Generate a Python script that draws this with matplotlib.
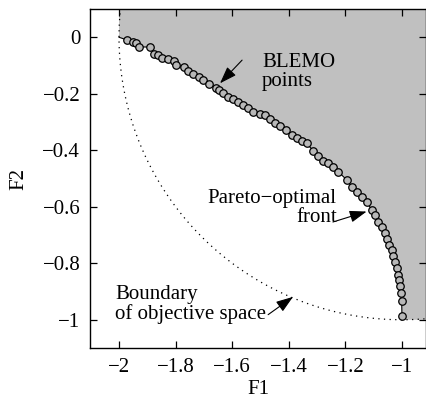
import numpy as np
import matplotlib
matplotlib.use("Agg")
import matplotlib.pyplot as plt

plt.rcParams["font.family"] = ["Liberation Serif", "DejaVu Serif"]

# BLEMO solutions (F1, F2)
blemo_f1 = [
    -1.971, -1.952, -1.940, -1.928, -1.890, -1.875, -1.861, -1.849, -1.826,
    -1.805, -1.799, -1.770, -1.755, -1.740, -1.716, -1.702, -1.681, -1.657,
    -1.647, -1.631, -1.614, -1.596, -1.578, -1.561, -1.543, -1.525, -1.502,
    -1.484, -1.466, -1.449, -1.431, -1.410, -1.390, -1.372, -1.354, -1.337,
    -1.313, -1.296, -1.278, -1.260, -1.243, -1.225, -1.195, -1.178, -1.160,
    -1.142, -1.125, -1.107, -1.095, -1.084, -1.072, -1.060, -1.052, -1.045,
    -1.036, -1.031, -1.025, -1.019, -1.013, -1.011, -1.007, -1.004, -1.001,
    -1.000,
]
blemo_f2 = [
    -0.010, -0.017, -0.022, -0.034, -0.035, -0.059, -0.064, -0.075, -0.078,
    -0.085, -0.099, -0.106, -0.118, -0.130, -0.142, -0.152, -0.166, -0.179,
    -0.187, -0.199, -0.211, -0.220, -0.230, -0.240, -0.252, -0.264, -0.272,
    -0.276, -0.291, -0.303, -0.314, -0.329, -0.346, -0.358, -0.366, -0.376,
    -0.402, -0.420, -0.437, -0.446, -0.458, -0.476, -0.505, -0.529, -0.547,
    -0.564, -0.582, -0.611, -0.629, -0.653, -0.670, -0.694, -0.715, -0.735,
    -0.753, -0.774, -0.794, -0.817, -0.841, -0.859, -0.880, -0.906, -0.935,
    -0.985,
]

# end points of the Pareto-optimal front
front_start = (-2.0, 0.0)
front_end = (-1.0, -1.0)

# boundary of the objective space: circle arc around (-1, 0)
circle_center = (-1.0, 0.0)
circle_radius = 1.0

xticks = [-2, -1.8, -1.6, -1.4, -1.2, -1]
yticks = [0, -0.2, -0.4, -0.6, -0.8, -1]

fig = plt.figure(figsize=(4.26, 4.01), dpi=100)
ax = fig.add_axes([90 / 426, 53 / 401, 336 / 426, 339 / 401])

front_x = [front_start[0]] + blemo_f1 + [front_end[0]]
front_y = [front_start[1]] + blemo_f2 + [front_end[1]]

# shaded (dominated) region above the front
poly_x = [front_start[0], *front_x, -0.8, -0.8, front_start[0]]
poly_y = [0.3, *front_y, front_end[1], 0.3, 0.3]
ax.fill(poly_x, poly_y, color="#c0c0c0", lw=0, zorder=1)

t = np.linspace(np.radians(174), np.radians(276), 300)
ax.plot(circle_center[0] + circle_radius * np.cos(t),
        circle_center[1] + circle_radius * np.sin(t),
        color="black", lw=0.9, ls=(0, (1, 3.5)), zorder=2)

ax.plot(front_x, front_y, color="black", lw=0.8, zorder=3)
ax.plot(blemo_f1, blemo_f2, "o", ms=5.4, mfc="#b8b8b8", mec="black",
        mew=0.9, zorder=4)

arrow = dict(arrowstyle="-|>,head_length=0.8,head_width=0.28",
             color="black", lw=0.8, shrinkA=0, shrinkB=0, mutation_scale=13)

ax.text(-1.495, -0.056, "BLEMO\npoints", fontsize=15, ha="left", va="top",
        linespacing=1.0, zorder=5)
ax.annotate("", xy=(-1.643, -0.163), xytext=(-1.565, -0.081),
            arrowprops=arrow, zorder=5)

ax.text(-1.230, -0.538, "Pareto\u2212optimal\nfront", fontsize=15,
        ha="right", va="top", multialignment="right", linespacing=1.0,
        zorder=5)
ax.annotate("", xy=(-1.125, -0.617), xytext=(-1.244, -0.654),
            arrowprops=arrow, zorder=5)

ax.text(-2.014, -0.878, "Boundary\nof objective space", fontsize=15,
        ha="left", va="top", linespacing=1.0, zorder=5)
ax.annotate("", xy=(-1.385, -0.919), xytext=(-1.473, -0.982),
            arrowprops=arrow, zorder=5)

ax.set_xlim(-2.1025, -0.915)
ax.set_ylim(-1.1, 0.1)
ax.set_xticks(xticks)
ax.set_yticks(yticks)
ax.set_xticklabels([f"{v:g}".replace("-", "\u2212") for v in xticks])
ax.set_yticklabels([f"{v:g}".replace("-", "\u2212") for v in yticks])
ax.tick_params(direction="in", length=5, width=0.9, labelsize=15,
               top=True, right=True, pad=7)
for s in ax.spines.values():
    s.set_linewidth(1.0)

ax.set_xlabel("F1", fontsize=15, labelpad=2)
ax.set_ylabel("F2", fontsize=15, labelpad=10)

fig.savefig("out.png", dpi=100)
